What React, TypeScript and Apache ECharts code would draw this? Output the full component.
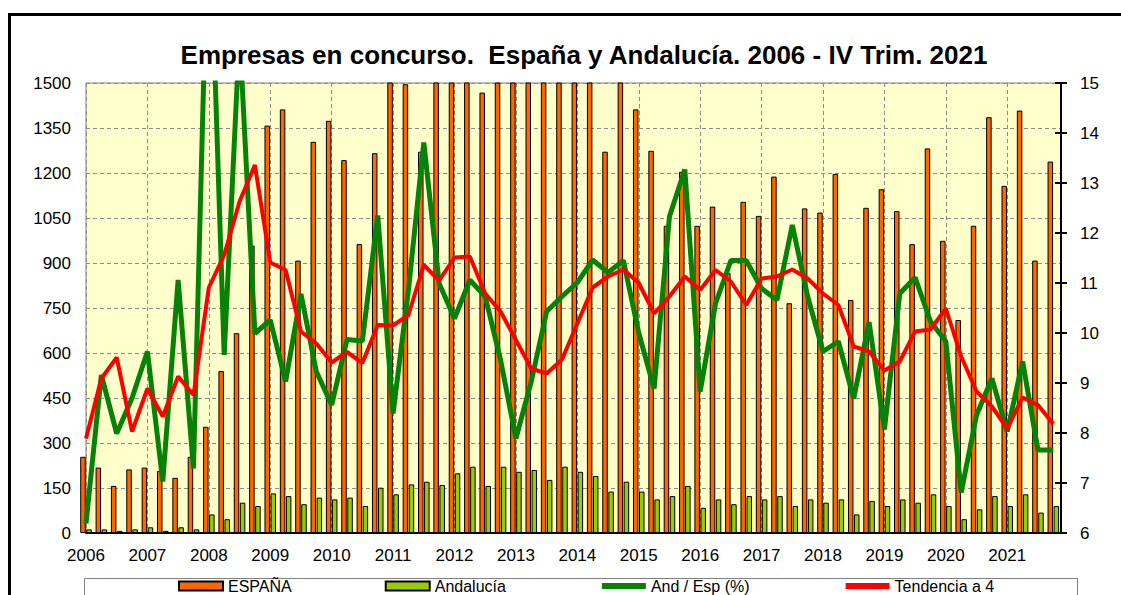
import React, { useEffect, useRef } from "react";
import * as echarts from "echarts";

const years = ["2006","2007","2008","2009","2010","2011","2012","2013","2014","2015","2016","2017","2018","2019","2020","2021"];

const espana = [254,218,157,212,218,207,184,254,354,540,666,958,1358,1412,908,1304,1374,1243,963,1266,1540,1496,1271,1560,1930,2000,1468,2330,2580,2330,1700,2060,1850,1660,1271,1530,1412,1274,1024,1204,1024,1088,866,1104,1057,1188,766,1082,1068,1197,777,1084,1146,1073,963,1282,974,710,1024,1386,1157,1408,908,1238];

const andalucia = [12,12,7,12,19,7,19,12,62,46,101,90,132,123,96,118,112,118,90,151,129,162,171,160,199,221,157,221,204,210,177,221,204,190,138,171,138,112,123,157,84,112,96,123,112,123,90,112,101,112,62,107,90,112,101,129,90,46,79,123,90,129,68,90];

const ratio = [6.19,9.16,7.99,8.7,9.63,7.03,11.06,7.29,19.0,9.56,16.0,9.99,10.26,9.03,10.78,9.23,8.56,9.87,9.84,12.35,8.39,10.86,13.81,10.99,10.29,11.06,10.73,9.46,7.89,9.03,10.43,10.73,11.01,11.46,11.21,11.45,10.0,8.89,12.33,13.27,8.83,10.59,11.45,11.45,10.89,10.66,12.16,10.73,9.63,9.83,8.69,10.22,8.07,10.79,11.11,10.23,9.83,6.81,8.36,9.09,8.03,9.43,7.66,7.66];

const tendencia = [7.89,9.09,9.51,8.03,8.89,8.33,9.13,8.76,10.91,11.56,12.63,13.36,11.41,11.26,10.03,9.79,9.41,9.62,9.4,10.16,10.15,10.36,11.36,11.05,11.51,11.53,10.79,10.43,9.86,9.29,9.19,9.47,10.19,10.91,11.13,11.27,11.0,10.39,10.73,11.13,10.86,11.26,11.03,10.56,11.09,11.13,11.27,11.09,10.79,10.56,9.73,9.63,9.25,9.43,10.03,10.07,10.49,9.53,8.83,8.53,8.09,8.71,8.56,8.18];

const seriesNames = ["ESPAÑA", "Andalucía", "And / Esp (%)", "Tendencia a 4"];
const titleText = "Empresas en concurso.  España y Andalucía. 2006 - IV Trim. 2021";

const FONT = "'Liberation Sans', Arial, sans-serif";
const GREEN = "#078207";

export default function App() {
  const ref = useRef<HTMLDivElement>(null);
  useEffect(() => {
    if (!ref.current) return;
    const chart = echarts.init(ref.current, null, { renderer: "svg" });
    const toXY = (arr: number[]) => arr.map((v, i) => [i, v]);
    chart.setOption({
      animation: false,
      backgroundColor: "#ffffff",
      grid: {
        left: 86,
        right: 60,
        top: 83,
        bottom: 62,
        show: true,
        backgroundColor: "#FFFFCC",
        borderColor: "#808080",
        borderWidth: 1,
      },
      legend: {
        left: 178,
        top: 578,
        padding: 0,
        itemGap: 93,
        itemWidth: 44,
        itemHeight: 9,
        textStyle: { fontSize: 16, fontFamily: FONT, color: "#000" },
        data: [
          { name: seriesNames[0], icon: "rect" },
          { name: seriesNames[1], icon: "rect" },
          { name: seriesNames[2], itemStyle: { opacity: 0 }, lineStyle: { width: 6 } },
          { name: seriesNames[3], itemStyle: { opacity: 0 }, lineStyle: { width: 6 } },
        ],
      },
      graphic: [
        {
          type: "rect",
          z: 0,
          shape: { x: 84.5, y: 578.5, width: 993, height: 30 },
          style: { fill: "#ffffff", stroke: "#808080", lineWidth: 1 },
        },
        {
          type: "text",
          x: 584,
          y: 55,
          style: {
            text: titleText,
            fontFamily: FONT,
            fontWeight: "bold",
            fontSize: 26,
            fill: "#000",
            textAlign: "center",
            textVerticalAlign: "middle",
          },
        },
        {
          type: "rect",
          z: 100,
          shape: { x: 9.5, y: 14.5, width: 1300, height: 800 },
          style: { fill: "none", stroke: "#000", lineWidth: 3 },
        },
      ],
      xAxis: {
        type: "value",
        min: 0,
        max: 63.5,
        interval: 4,
        axisLine: { show: true, onZero: false, lineStyle: { color: "#000", width: 2 } },
        axisTick: { show: false },
        axisLabel: {
          fontSize: 17,
          fontFamily: FONT,
          color: "#000",
          margin: 14,
          formatter: (v: number) => (v % 4 === 0 ? years[v / 4] ?? "" : ""),
        },
        splitLine: { show: true, lineStyle: { color: "#8c8c8c", type: [4, 3], width: 1 } },
      },
      yAxis: [
        {
          type: "value",
          min: 0,
          max: 1500,
          interval: 150,
          position: "left",
          axisLine: { show: false },
          axisTick: { show: false },
          axisLabel: {
            fontSize: 17,
            fontFamily: FONT,
            color: "#000",
            margin: 15,
            formatter: (v: number) => String(v),
          },
          splitLine: { show: true, lineStyle: { color: "#8c8c8c", type: [4, 3], width: 1 } },
        },
        {
          type: "value",
          min: 6,
          max: 15,
          interval: 1,
          position: "right",
          axisLine: { show: true, lineStyle: { color: "#000", width: 2 } },
          axisTick: { show: true, length: 6, lineStyle: { color: "#000", width: 2 } },
          axisLabel: {
            fontSize: 17,
            fontFamily: FONT,
            color: "#000",
            margin: 19,
            formatter: (v: number) => String(v),
          },
          splitLine: { show: false },
        },
        {
          type: "value",
          min: 6,
          max: 15,
          interval: 1,
          position: "right",
          axisLine: { show: false },
          axisTick: { show: true, inside: true, length: 6, lineStyle: { color: "#000", width: 2 } },
          axisLabel: { show: false },
          splitLine: { show: false },
        },
      ],
      series: [
        {
          name: seriesNames[0],
          type: "bar",
          data: toXY(espana),
          barWidth: 5.5,
          barGap: "10%",
          clip: true,
          itemStyle: { color: "#FF6600", borderColor: "#000", borderWidth: 1 },
          z: 2,
        },
        {
          name: seriesNames[1],
          type: "bar",
          data: toXY(andalucia),
          barWidth: 5.5,
          barGap: "10%",
          clip: true,
          itemStyle: { color: "#99CC00", borderColor: "#000", borderWidth: 1 },
          z: 2,
        },
        {
          name: seriesNames[2],
          type: "line",
          yAxisIndex: 1,
          data: toXY(ratio),
          symbol: "none",
          clip: true,
          lineStyle: { color: GREEN, width: 5 },
          itemStyle: { color: GREEN },
          z: 3,
        },
        {
          name: seriesNames[3],
          type: "line",
          yAxisIndex: 1,
          data: toXY(tendencia),
          symbol: "none",
          clip: true,
          lineStyle: { color: "#FF0000", width: 4 },
          itemStyle: { color: "#FF0000" },
          z: 4,
        },
      ],
    });
    return () => chart.dispose();
  }, []);
  return (
    <div
      ref={ref}
      style={{ position: "absolute", left: 0, top: 0, width: 1121, height: 595 }}
    />
  );
}
